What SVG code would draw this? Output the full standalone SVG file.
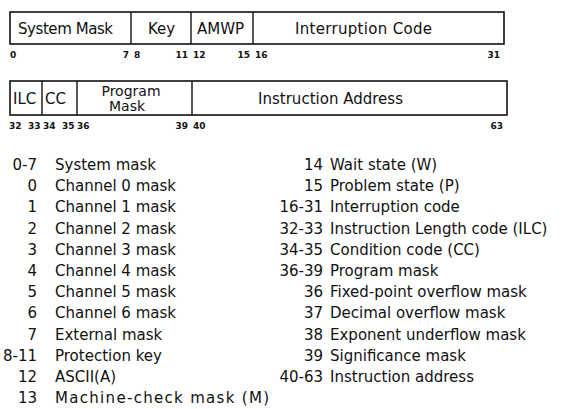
<svg xmlns="http://www.w3.org/2000/svg" width="571" height="409" viewBox="0 0 571 409">
<style>
.box{fill:none;stroke:#111;stroke-width:1.6}
.div{stroke:#111;stroke-width:1.4}
.lbl{font-family:"DejaVu Sans","Liberation Sans",sans-serif;font-size:15px;fill:#111}
.bit{font-family:"DejaVu Sans","Liberation Sans",sans-serif;font-size:9px;font-weight:bold;fill:#111}
.li{font-family:"DejaVu Sans","Liberation Sans",sans-serif;font-size:15px;fill:#111}
.num{text-anchor:end}
</style>
<rect width="571" height="409" fill="#fff"/>
<g id="psw-word1">
<rect class="box" x="10" y="12" width="494" height="32"/>
<line class="div" x1="131" y1="12" x2="131" y2="44"/>
<line class="div" x1="191" y1="12" x2="191" y2="44"/>
<line class="div" x1="253" y1="12" x2="253" y2="44"/>
<text class="lbl" x="18" y="34" textLength="95">System Mask</text>
<text class="lbl" x="148" y="34">Key</text>
<text class="lbl" x="197" y="34">AMWP</text>
<text class="lbl" x="295" y="34" textLength="137">Interruption Code</text>
<text class="bit" x="10" y="58">0</text>
<text class="bit" x="129" y="58" text-anchor="end">7</text>
<text class="bit" x="134" y="58">8</text>
<text class="bit" x="188" y="58" text-anchor="end">11</text>
<text class="bit" x="193" y="58">12</text>
<text class="bit" x="250" y="58" text-anchor="end">15</text>
<text class="bit" x="255" y="58">16</text>
<text class="bit" x="500" y="58" text-anchor="end">31</text>
</g>
<g id="psw-word2">
<rect class="box" x="10" y="81" width="497" height="34"/>
<line class="div" x1="42" y1="81" x2="42" y2="115"/>
<line class="div" x1="77" y1="81" x2="77" y2="115"/>
<line class="div" x1="192" y1="81" x2="192" y2="115"/>
<text class="lbl" x="13" y="104">ILC</text>
<text class="lbl" x="45" y="104">CC</text>
<text class="lbl" x="131" y="96" text-anchor="middle" style="font-size:14px">Program</text>
<text class="lbl" x="127" y="111" text-anchor="middle" style="font-size:14px">Mask</text>
<text class="lbl" x="258" y="104" textLength="145">Instruction Address</text>
<text class="bit" x="9" y="129">32</text>
<text class="bit" x="28" y="129">33</text>
<text class="bit" x="43" y="129">34</text>
<text class="bit" x="62" y="129">35</text>
<text class="bit" x="77" y="129">36</text>
<text class="bit" x="188" y="129" text-anchor="end">39</text>
<text class="bit" x="193" y="129">40</text>
<text class="bit" x="503" y="129" text-anchor="end">63</text>
</g>
<g id="legend-left">
<text class="li num" x="37" y="170">0-7</text><text class="li" x="55" y="170">System mask</text>
<text class="li num" x="37" y="191">0</text><text class="li" x="55" y="191">Channel 0 mask</text>
<text class="li num" x="37" y="212">1</text><text class="li" x="55" y="212">Channel 1 mask</text>
<text class="li num" x="37" y="234">2</text><text class="li" x="55" y="234">Channel 2 mask</text>
<text class="li num" x="37" y="255">3</text><text class="li" x="55" y="255">Channel 3 mask</text>
<text class="li num" x="37" y="276">4</text><text class="li" x="55" y="276">Channel 4 mask</text>
<text class="li num" x="37" y="297">5</text><text class="li" x="55" y="297">Channel 5 mask</text>
<text class="li num" x="37" y="318">6</text><text class="li" x="55" y="318">Channel 6 mask</text>
<text class="li num" x="37" y="340">7</text><text class="li" x="55" y="340">External mask</text>
<text class="li num" x="37" y="361">8-11</text><text class="li" x="55" y="361">Protection key</text>
<text class="li num" x="37" y="382">12</text><text class="li" x="55" y="382">ASCII(A)</text>
<text class="li num" x="37" y="403">13</text><text class="li" x="55" y="403" textLength="214">Machine-check mask (M)</text>
</g>
<g id="legend-right">
<text class="li num" x="323" y="170">14</text><text class="li" x="330" y="170">Wait state (W)</text>
<text class="li num" x="323" y="191">15</text><text class="li" x="330" y="191">Problem state (P)</text>
<text class="li num" x="323" y="212">16-31</text><text class="li" x="330" y="212">Interruption code</text>
<text class="li num" x="323" y="234">32-33</text><text class="li" x="330" y="234">Instruction Length code (ILC)</text>
<text class="li num" x="323" y="255">34-35</text><text class="li" x="330" y="255">Condition code (CC)</text>
<text class="li num" x="323" y="276">36-39</text><text class="li" x="330" y="276">Program mask</text>
<text class="li num" x="323" y="297">36</text><text class="li" x="330" y="297">Fixed-point overflow mask</text>
<text class="li num" x="323" y="318">37</text><text class="li" x="330" y="318">Decimal overflow mask</text>
<text class="li num" x="323" y="340">38</text><text class="li" x="330" y="340">Exponent underflow mask</text>
<text class="li num" x="323" y="361">39</text><text class="li" x="330" y="361">Significance mask</text>
<text class="li num" x="323" y="382">40-63</text><text class="li" x="330" y="382">Instruction address</text>
</g>
</svg>
